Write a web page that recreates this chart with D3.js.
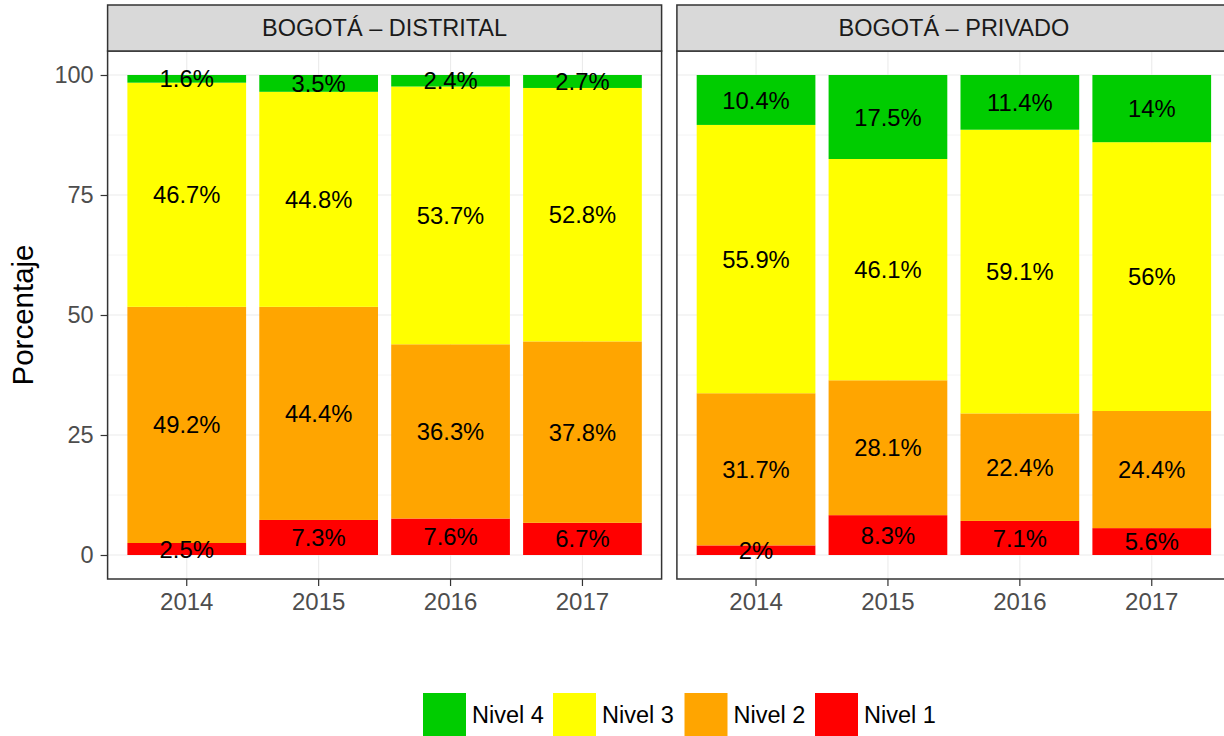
<!DOCTYPE html>
<html>
<head>
<meta charset="utf-8">
<script src="https://cdn.jsdelivr.net/npm/d3@7"></script>
<style>
  body { margin: 0; background: #fff; }
  text { font-family: "Liberation Sans", Arial, sans-serif; }
</style>
</head>
<body>
<div id="chart"></div>
<script>
// data
const years = ["2014", "2015", "2016", "2017"];
const levels = ["Nivel 1", "Nivel 2", "Nivel 3", "Nivel 4"];
const panelNames = ["BOGOTÁ – DISTRITAL", "BOGOTÁ – PRIVADO"];
// per year: Nivel 1, Nivel 2, Nivel 3, Nivel 4
const distrital = [[2.5, 49.2, 46.7, 1.6], [7.3, 44.4, 44.8, 3.5], [7.6, 36.3, 53.7, 2.4], [6.7, 37.8, 52.8, 2.7]];
const privado = [[2, 31.7, 55.9, 10.4], [8.3, 28.1, 46.1, 17.5], [7.1, 22.4, 59.1, 11.4], [5.6, 24.4, 56, 14]];
const yTicks = [0, 25, 50, 75, 100];
const yMinor = [12.5, 37.5, 62.5, 87.5];
const legendOrder = ["Nivel 4", "Nivel 3", "Nivel 2", "Nivel 1"];

const colors = {"Nivel 1": "#FF0000", "Nivel 2": "#FFA500", "Nivel 3": "#FFFF00", "Nivel 4": "#00CC00"};

const width = 1224, height = 736;
const panelW = 554, panelTop = 51, panelBottom = 579, stripTop = 5;
const panelLefts = [107.6, 676.9];

const svg = d3.select("#chart").append("svg")
    .attr("width", width).attr("height", height)
    .attr("viewBox", [0, 0, width, height]);

const y = d3.scaleLinear().domain([-5, 105]).range([panelBottom, panelTop]);

const toRows = vals => vals.map((v, i) => {
    const row = {year: years[i]};
    levels.forEach((l, j) => row[l] = v[j]);
    return row;
});
const stack = d3.stack().keys(levels);

[distrital, privado].forEach((vals, p) => {
    const left = panelLefts[p];
    const x = d3.scaleBand().domain(years).range([left, left + panelW])
        .paddingInner(0.1).paddingOuter(0.15);
    const g = svg.append("g");

    // grid
    g.selectAll(".minor").data(yMinor).join("line")
        .attr("x1", left).attr("x2", left + panelW)
        .attr("y1", d => y(d)).attr("y2", d => y(d))
        .attr("stroke", "#EBEBEB").attr("stroke-width", 0.55);
    g.selectAll(".majory").data(yTicks).join("line")
        .attr("x1", left).attr("x2", left + panelW)
        .attr("y1", d => y(d)).attr("y2", d => y(d))
        .attr("stroke", "#EBEBEB").attr("stroke-width", 1.1);
    g.selectAll(".majorx").data(years).join("line")
        .attr("x1", d => x(d) + x.bandwidth() / 2).attr("x2", d => x(d) + x.bandwidth() / 2)
        .attr("y1", panelTop).attr("y2", panelBottom)
        .attr("stroke", "#EBEBEB").attr("stroke-width", 1.1);

    const series = stack(toRows(vals));

    // bars
    series.forEach(s => {
        g.append("g").selectAll("rect").data(s).join("rect")
            .attr("x", d => x(d.data.year))
            .attr("width", x.bandwidth())
            .attr("y", d => y(d[1]))
            .attr("height", d => y(d[0]) - y(d[1]))
            .attr("fill", colors[s.key]);
    });

    // labels
    series.forEach(s => {
        g.append("g").selectAll("text").data(s).join("text")
            .attr("x", d => x(d.data.year) + x.bandwidth() / 2)
            .attr("y", d => y((d[0] + d[1]) / 2))
            .attr("dy", "0.36em")
            .attr("text-anchor", "middle")
            .attr("font-size", 23.8)
            .attr("fill", "#000")
            .text(d => `${d.data[s.key]}%`);
    });

    // border
    g.append("rect").attr("x", left).attr("y", panelTop)
        .attr("width", panelW).attr("height", panelBottom - panelTop)
        .attr("fill", "none").attr("stroke", "#333333").attr("stroke-width", 1.5);

    // strip
    g.append("rect").attr("x", left).attr("y", stripTop)
        .attr("width", panelW).attr("height", panelTop - stripTop)
        .attr("fill", "#D9D9D9").attr("stroke", "#333333").attr("stroke-width", 1.5);
    g.append("text").attr("x", left + panelW / 2).attr("y", (stripTop + panelTop) / 2)
        .attr("dy", "0.36em").attr("text-anchor", "middle")
        .attr("font-size", 23.5).attr("fill", "#1A1A1A")
        .text(panelNames[p]);

    // x axis
    const xa = svg.append("g").attr("transform", `translate(0,${panelBottom})`)
        .call(d3.axisBottom(x).tickSize(7).tickPadding(7))
        .call(a => a.select(".domain").remove());
    xa.selectAll("line").attr("stroke", "#333333").attr("stroke-width", 1.2);
    xa.selectAll("text").attr("font-size", 24).attr("fill", "#4D4D4D")
        .attr("font-family", "Liberation Sans, Arial, sans-serif");

    if (p === 0) {
        const ya = svg.append("g").attr("transform", `translate(${left},0)`)
            .call(d3.axisLeft(y).tickValues(yTicks).tickSize(7).tickPadding(7))
            .call(a => a.select(".domain").remove());
        ya.selectAll("line").attr("stroke", "#333333").attr("stroke-width", 1.2);
        ya.selectAll("text").attr("font-size", 23.5).attr("fill", "#4D4D4D")
            .attr("font-family", "Liberation Sans, Arial, sans-serif");
    }
});

// y title
svg.append("text")
    .attr("transform", `translate(33,${(panelTop + panelBottom) / 2}) rotate(-90)`)
    .attr("text-anchor", "middle")
    .attr("font-size", 29.5).attr("fill", "#000")
    .text("Porcentaje");

// legend
const keyX = [423, 553, 684.5, 815];
const keySize = 43;
const legend = svg.append("g");
legendOrder.forEach((l, i) => {
    legend.append("rect").attr("x", keyX[i]).attr("y", 693)
        .attr("width", keySize).attr("height", keySize).attr("fill", colors[l]);
    legend.append("text").attr("x", keyX[i] + keySize + 6).attr("y", 693 + keySize / 2)
        .attr("dy", "0.36em").attr("font-size", 23.5).attr("fill", "#000")
        .text(l);
});
</script>
</body>
</html>
